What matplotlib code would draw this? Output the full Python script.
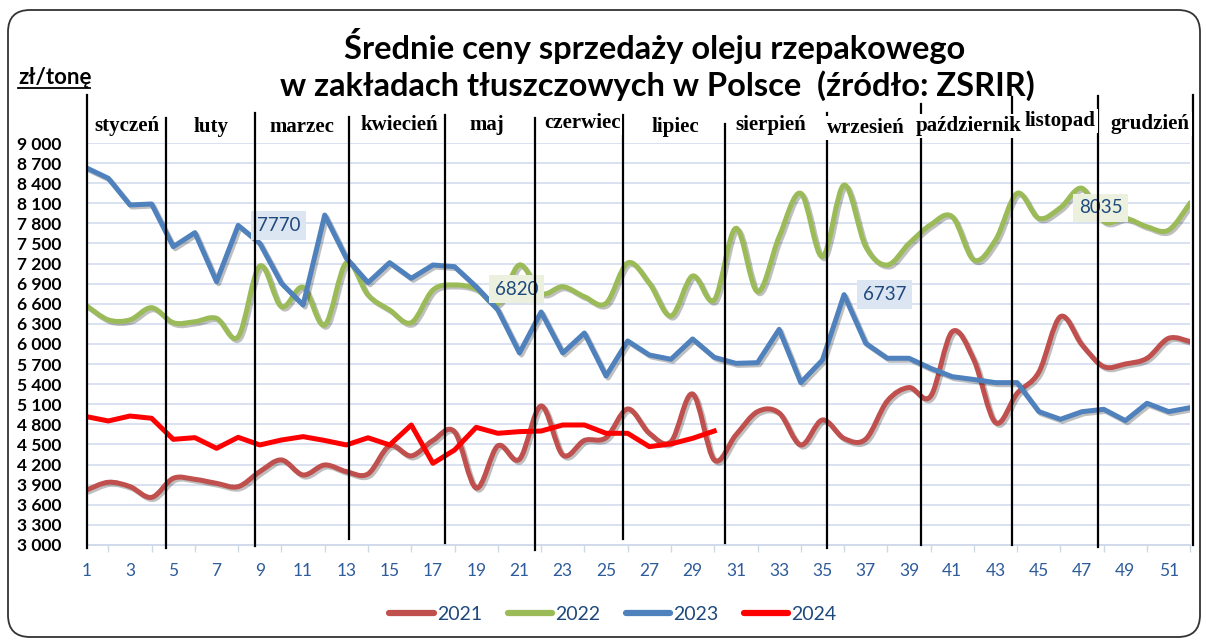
import matplotlib
matplotlib.use("Agg")
import matplotlib.pyplot as plt
import matplotlib.patheffects as pe
import matplotlib.transforms as mtransforms
from matplotlib.path import Path
from matplotlib.patches import PathPatch, FancyBboxPatch
from matplotlib.lines import Line2D

# tygodnie i ceny (zł/t)
tygodnie = list(range(1, 53))
ceny_2021 = [3821, 3936, 3871, 3711, 3995, 3980, 3920, 3871, 4095, 4269,
             4045, 4194, 4095, 4060, 4480, 4330, 4560, 4690, 3850, 4480,
             4280, 5075, 4343, 4560, 4600, 5030, 4667, 4542, 5254, 4269,
             4642, 4990, 4970, 4493, 4866, 4590, 4580, 5150, 5350, 5220,
             6184, 5760, 4826, 5264, 5580, 6408, 5985, 5662, 5702, 5787,
             6085, 6035]
ceny_2022 = [6570, 6360, 6360, 6542, 6318, 6333, 6383, 6109, 7164, 6557,
             6846, 6284, 7214, 6731, 6507, 6318, 6806, 6881, 6820, 6600,
             7180, 6757, 6855, 6706, 6607, 7210, 6906, 6418, 7015, 6657,
             7727, 6781, 7602, 8249, 7303, 8373, 7453, 7179, 7500, 7780,
             7900, 7254, 7552, 8249, 7876, 8035, 8324, 7830, 7876, 7750,
             7700, 8109]
ceny_2023 = [8627, 8473, 8075, 8090, 7452, 7662, 6930, 7770, 7503, 6906,
             6582, 7925, 7279, 6915, 7214, 6980, 7179, 7154, 6855, 6508,
             5866, 6478, 5866, 6164, 5522, 6045, 5836, 5772, 6075, 5801,
             5711, 5721, 6219, 5423, 5761, 6737, 6010, 5787, 5787, 5637,
             5512, 5470, 5423, 5423, 4990, 4876, 4990, 5025, 4856, 5115,
             4990, 5050]
ceny_2024 = [4915, 4851, 4925, 4891, 4577, 4602, 4443, 4607, 4493, 4567,
             4617, 4560, 4493, 4600, 4493, 4791, 4219, 4418, 4756, 4667,
             4692, 4701, 4791, 4791, 4667, 4667, 4468, 4508, 4592, 4701]

miesiace = ["styczeń", "luty", "marzec", "kwiecień", "maj", "czerwiec", "lipiec",
            "sierpień", "wrzesień", "październik", "listopad", "grudzień"]
miesiace_x = [2.86, 6.75, 10.95, 15.43, 19.5, 23.89, 28.19, 32.63, 37.0, 41.76, 46.0, 50.15]
miesiace_y = [1.042, 1.04, 1.04, 1.045, 1.045, 1.05, 1.04, 1.045, 1.037, 1.042, 1.055, 1.047]

granice = [1.0, 4.66, 8.78, 13.12, 17.56, 21.72, 25.79, 30.5, 35.21, 39.55, 43.76, 47.73, 52.12]
granice_gora = [1.119, 1.062, 1.075, 1.065, 1.070, 1.062, 1.070, 1.047, 1.075, 1.097, 1.114, 1.117, 1.119]
granice_dol = [-0.0075, -0.0075, -0.0025, 0.015, 0.005, -0.012, 0.015, 0.005, -0.0075, 0, 0, -0.005, 0]

# etykiety danych: (tydzien, seria)
etykiety = [(8, "2023"), (19, "2022"), (36, "2023"), (46, "2022")]

kolory = {"2021": "#C0504D", "2022": "#9BBB59", "2023": "#4F81BD", "2024": "#FF0000"}
tlo_etykiet = {"2022": "#EBF1DE", "2023": "#DCE6F2"}
serie = {"2021": ceny_2021, "2022": ceny_2022, "2023": ceny_2023, "2024": ceny_2024}


def gladka(x, y):
    # krzywa Beziera przez punkty, jak wygladzanie w Excelu
    verts = [(x[0], y[0])]
    codes = [Path.MOVETO]
    n = len(x)
    for i in range(n - 1):
        xp, yp = (x[i - 1], y[i - 1]) if i > 0 else (x[i], y[i])
        xn, yn = (x[i + 2], y[i + 2]) if i + 2 < n else (x[i + 1], y[i + 1])
        verts.append((x[i] + (x[i + 1] - xp) / 6, y[i] + (y[i + 1] - yp) / 6))
        verts.append((x[i + 1] - (xn - x[i]) / 6, y[i + 1] - (yn - y[i]) / 6))
        verts.append((x[i + 1], y[i + 1]))
        codes += [Path.CURVE4] * 3
    return Path(verts, codes)


fig = plt.figure(figsize=(12.06, 6.41), dpi=100)
ax = fig.add_axes([86.7 / 1206, 0.1498, (1190.3 - 86.7) / 1206, 0.6271])

cien = [pe.SimpleLineShadow(offset=(1.5, -1.5), shadow_color="black", alpha=0.25), pe.Normal()]

for rok in ["2021", "2022"]:
    y = serie[rok]
    p = PathPatch(gladka(tygodnie[:len(y)], y), fill=False, edgecolor=kolory[rok],
                  lw=3.6, capstyle="round", joinstyle="round", zorder=3)
    p.set_path_effects(cien)
    ax.add_patch(p)

ax.plot(tygodnie, ceny_2023, color=kolory["2023"], lw=3.6, solid_joinstyle="round",
        zorder=4, path_effects=cien)
ax.plot(tygodnie[:len(ceny_2024)], ceny_2024, color=kolory["2024"], lw=3.6,
        solid_joinstyle="round", zorder=5)

for tydz, rok in etykiety:
    wart = serie[rok][tydz - 1]
    ax.annotate(str(wart), (tydz, wart), xytext=(29, 0), textcoords="offset points",
                ha="center", va="center", fontsize=13.5, color="#1F497D", family="Lato",
                bbox=dict(boxstyle="square,pad=0.3", fc=tlo_etykiet[rok], ec="none"),
                zorder=6)

ax.set_xlim(1, 52)
ax.set_ylim(3000, 9000)
ax.set_yticks(range(3000, 9001, 300))
ax.set_yticklabels([f"{v:,}".replace(",", " ") for v in range(3000, 9001, 300)],
                   fontsize=12.5, fontweight="bold", family="Lato")
ax.set_xticks(range(1, 53, 2))
ax.set_xticks(range(1, 53), minor=True)
ax.set_xticklabels([str(t) for t in range(1, 53, 2)], fontsize=12.5, color="#2E5B9A", family="Lato")
ax.tick_params(axis="y", length=0, pad=18)
ax.tick_params(axis="x", which="major", length=0, pad=13)
ax.tick_params(axis="x", which="minor", length=5, color="#D0D8E4", width=1)
ax.grid(axis="y", color="#D9E2F1", lw=1.4)
ax.set_axisbelow(True)
for s in ["left", "right", "top"]:
    ax.spines[s].set_visible(False)
ax.spines["bottom"].set_color("#D0DAEA")
ax.spines["bottom"].set_linewidth(1.4)

# pionowe linie miedzy miesiacami
tr = mtransforms.blended_transform_factory(ax.transData, ax.transAxes)
for g, gora, dol in zip(granice, granice_gora, granice_dol):
    ax.add_line(Line2D([g, g], [dol, gora], transform=tr, color="black", lw=1.6,
                       clip_on=False, zorder=7))

for nazwa, mx, my in zip(miesiace, miesiace_x, miesiace_y):
    ax.text(mx, my, nazwa, transform=tr, ha="center", va="center", fontsize=15,
            fontweight="bold", family="Liberation Serif", zorder=8,
            bbox=dict(boxstyle="square,pad=0.1", fc="white", ec="none"))

fig.text(655 / 1206, 1 - 46 / 641, "Średnie ceny sprzedaży oleju rzepakowego",
         ha="center", va="center", fontsize=23.5, fontweight="bold", family="Lato")
fig.text(657 / 1206, 1 - 86 / 641, "w zakładach tłuszczowych w Polsce  (źródło: ZSRIR)",
         ha="center", va="center", fontsize=23.5, fontweight="bold", family="Lato")
fig.text(18 / 1206, 1 - 78 / 641, "zł/tonę", ha="left", va="center", fontsize=16,
         fontweight="bold", family="Lato")
fig.add_artist(Line2D([18 / 1206, 90 / 1206], [1 - 88 / 641, 1 - 88 / 641], color="black", lw=1.3))

uchwyty = [Line2D([], [], color=kolory[r], lw=4.5, solid_capstyle="round") for r in serie]
fig.legend(uchwyty, list(serie), loc="center", bbox_to_anchor=(613 / 1206, 1 - 614 / 641),
           ncol=4, frameon=False, handlelength=2.3, handletextpad=0.15,
           columnspacing=1.3, labelcolor="#1F497D", prop={"family": "Lato", "size": 14})

ramka = FancyBboxPatch((8, 4), 1192, 627, boxstyle="round,pad=0,rounding_size=22",
                       fc="none", ec="#333333", lw=1.3, transform=mtransforms.IdentityTransform())
fig.add_artist(ramka)

fig.savefig("out.png", dpi=100)
